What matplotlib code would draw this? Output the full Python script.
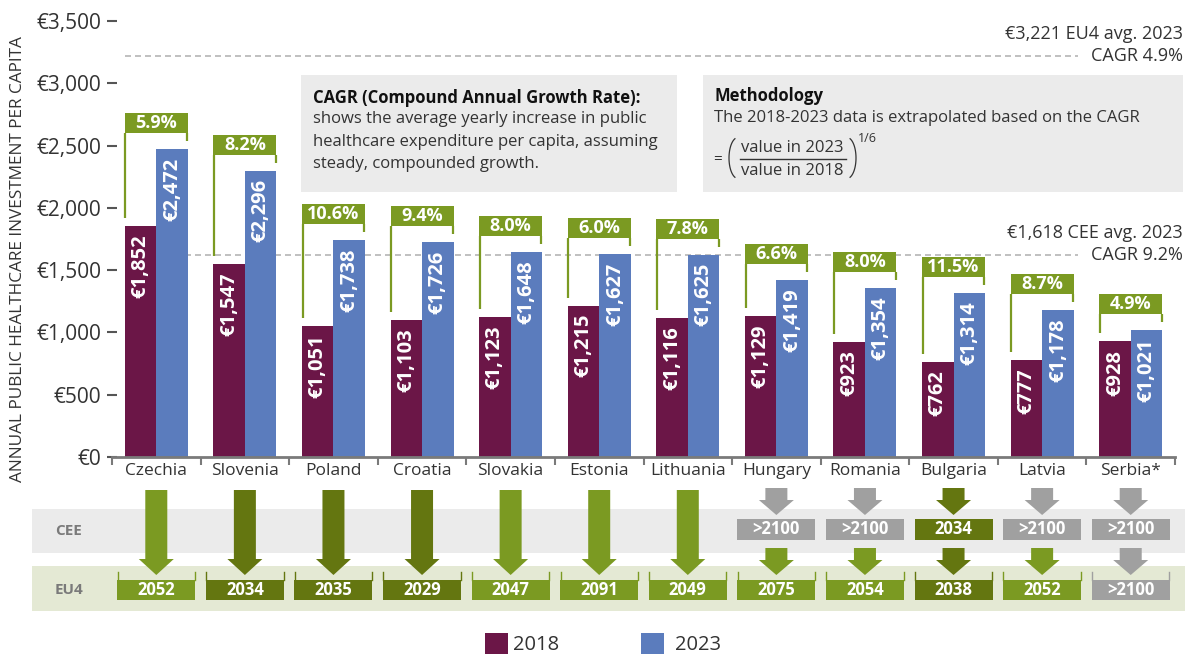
import numpy as np
import matplotlib
matplotlib.use('Agg')
import matplotlib.pyplot as plt
import matplotlib.transforms as mtransforms
from matplotlib.patches import Rectangle, Polygon
from matplotlib.lines import Line2D

plt.rcParams['font.family'] = ['Open Sans', 'DejaVu Sans']

# ---- data ----
countries = ['Czechia', 'Slovenia', 'Poland', 'Croatia', 'Slovakia', 'Estonia',
             'Lithuania', 'Hungary', 'Romania', 'Bulgaria', 'Latvia', 'Serbia*']
val_2018 = [1852, 1547, 1051, 1103, 1123, 1215, 1116, 1129, 923, 762, 777, 928]
val_2023 = [2472, 2296, 1738, 1726, 1648, 1627, 1625, 1419, 1354, 1314, 1178, 1021]
cagr = [5.9, 8.2, 10.6, 9.4, 8.0, 6.0, 7.8, 6.6, 8.0, 11.5, 8.7, 4.9]
# year of catching up with the CEE / EU4 average (None = already above CEE avg)
cee_year = [None, None, None, None, None, None, None, '>2100', '>2100', '2034', '>2100', '>2100']
eu4_year = ['2052', '2034', '2035', '2029', '2047', '2091', '2049', '2075', '2054', '2038', '2052', '>2100']
eu4_avg, eu4_cagr = 3221, 4.9
cee_avg, cee_cagr = 1618, 9.2
yticks = [0, 500, 1000, 1500, 2000, 2500, 3000, 3500]

PURPLE = '#6b1647'
BLUE = '#5b7cbd'
GREEN = '#7b9a22'
DKGREEN = '#647610'
GREY = '#a0a0a0'
TXT = '#333333'

def year_color(y):
    if y.startswith('>'):
        return GREY
    return DKGREEN if int(y) <= 2040 else GREEN

W, H = 1189, 654
fig = plt.figure(figsize=(W / 100, H / 100), dpi=100)
# pixel coords measured from top-left of the image
T = mtransforms.Affine2D().scale(1, -1).translate(0, H).scale(0.01) + fig.dpi_scale_trans

n = len(countries)
x = np.arange(n)
bw = 0.356
ax_l, ax_r, ax_top, ax_bot = 112, 1175, 21, 457
unit = (ax_r - ax_l) / n          # px per category
ymax = yticks[-1]
px2d = ymax / (ax_bot - ax_top)  # euro per px

ax = fig.add_axes([ax_l / W, 1 - ax_bot / H, (ax_r - ax_l) / W, (ax_bot - ax_top) / H])
ax.set_facecolor('none')
ax.bar(x - bw / 2, val_2018, bw, color=PURPLE, zorder=3)
ax.bar(x + bw / 2, val_2023, bw, color=BLUE, zorder=3)

for i in range(n):
    for xx, v in ((x[i] - bw / 2, val_2018[i]), (x[i] + bw / 2, val_2023[i])):
        ax.annotate(f'€{v:,}', xy=(xx, v), xytext=(0, -6), textcoords='offset points',
                    rotation=90, rotation_mode='anchor', ha='right', va='center',
                    color='white', fontsize=14.5, fontweight='bold', zorder=5)
    # CAGR bracket
    top = max(val_2018[i], val_2023[i])
    b0 = top + 16 * px2d
    b1 = b0 + 20 * px2d
    ax.add_patch(Rectangle((x[i] - bw, b0), 2 * bw, b1 - b0, facecolor=GREEN,
                           edgecolor='none', zorder=6))
    lx = x[i] - bw + 0.008
    rx = x[i] + bw - 0.008
    ax.plot([lx, lx], [b0, val_2018[i] + 8 * px2d], color=GREEN, lw=1.6, zorder=6,
            solid_capstyle='butt')
    ax.plot([rx, rx], [b0, val_2023[i] + 8 * px2d], color=GREEN, lw=1.6, zorder=6,
            solid_capstyle='butt')
    ax.text(x[i], (b0 + b1) / 2, f'{cagr[i]:.1f}%', ha='center', va='center',
            color='white', fontsize=13, fontweight='bold', zorder=7)

# average lines
bt = mtransforms.blended_transform_factory(ax.transAxes, ax.transData)
xr = 1 + 8 / (ax_r - ax_l)
for avg, cg, name in ((eu4_avg, eu4_cagr, 'EU4'), (cee_avg, cee_cagr, 'CEE')):
    ax.hlines(avg, -bw, n - 1.6, colors='#b5b5b5', linestyles=(0, (3.6, 2.4)),
              lw=1.2, zorder=1)
    ax.text(xr, avg, f'CAGR {cg}%', transform=bt, ha='right', va='center',
            fontsize=13, color=TXT, clip_on=False)
    ax.annotate(f'€{avg:,} {name} avg. 2023', xy=(xr, avg), xycoords=bt,
                xytext=(0, 16), textcoords='offset points', ha='right', va='center',
                fontsize=13, color=TXT, annotation_clip=False)

ax.set_xlim(-0.5, n - 0.5)
ax.set_ylim(0, ymax)
for s in ('top', 'right', 'left'):
    ax.spines[s].set_visible(False)
ax.spines['bottom'].set_color('#7a7a7a')
ax.spines['bottom'].set_linewidth(2)
ax.spines['bottom'].set_zorder(4)
ax.set_xticks(x)
ax.set_xticklabels(countries)
ax.set_xticks(np.arange(-0.5, n), minor=True)
ax.tick_params(axis='x', which='major', length=0, pad=4, labelsize=12.5, labelcolor=TXT)
ax.tick_params(axis='x', which='minor', length=6, width=1.5, color='#7a7a7a')
ax.set_yticks(yticks)
ax.set_yticklabels([f'€{v:,}' for v in yticks])
ax.tick_params(axis='y', length=7, width=1.5, color='#555555', direction='inout',
               pad=4, labelsize=15, labelcolor=TXT)

fig.text(18, 259, 'ANNUAL PUBLIC HEALTHCARE INVESTMENT PER CAPITA', transform=T,
         rotation=90, ha='center', va='center', fontsize=12.4, color=TXT)

# info boxes
fig.add_artist(Rectangle((301, 75), 376, 117, transform=T, facecolor='#ebebeb',
                         edgecolor='none', zorder=0))
fig.text(313, 98, 'CAGR (Compound Annual Growth Rate):', transform=T, va='center',
         fontsize=12, fontweight='bold', color='#111111')
for k, line in enumerate(['shows the average yearly increase in public',
                          'healthcare expenditure per capita, assuming',
                          'steady, compounded growth.']):
    fig.text(313, 119 + 22.5 * k, line, transform=T, va='center', fontsize=12, color=TXT)

fig.add_artist(Rectangle((703, 75), 480, 117, transform=T, facecolor='#ebebeb',
                         edgecolor='none', zorder=0))
fig.text(714, 96, 'Methodology', transform=T, va='center', fontsize=12,
         fontweight='bold', color='#111111')
fig.text(714, 118, 'The 2018-2023 data is extrapolated based on the CAGR',
         transform=T, va='center', fontsize=12, color=TXT)
fig.text(713, 159, '=', transform=T, va='center', fontsize=11, color=TXT)
fig.text(741, 148, 'value in 2023', transform=T, va='center', fontsize=12, color=TXT)
fig.text(741, 171, 'value in 2018', transform=T, va='center', fontsize=12, color=TXT)
fig.add_artist(Line2D([740, 846], [159, 159], transform=T, color=TXT, lw=1))
th = np.radians(np.linspace(110, 250, 30))
fig.add_artist(Line2D(738 + 9 * np.cos(th), 158 + 20.5 * np.sin(th), transform=T,
                      color=TXT, lw=0.9))
th = np.radians(np.linspace(-70, 70, 30))
fig.add_artist(Line2D(847 + 9 * np.cos(th), 158 + 20.5 * np.sin(th), transform=T,
                      color=TXT, lw=0.9))
fig.text(858, 139, '1/6', transform=T, va='center', fontsize=9, color=TXT)

# bottom: catch-up years (y axis of ax2 is in image pixel rows)
ax2 = fig.add_axes([ax_l / W, 0, (ax_r - ax_l) / W, (H - ax_bot) / H])
ax2.set_xlim(-0.5, n - 0.5)
ax2.set_ylim(H, ax_bot)
ax2.axis('off')
bt2 = mtransforms.blended_transform_factory(fig.transFigure, ax2.transData)
ax2.add_patch(Rectangle((32 / W, 509), (1185 - 32) / W, 44, transform=bt2,
                        facecolor='#ebebeb', edgecolor='none', clip_on=False, zorder=0))
ax2.add_patch(Rectangle((32 / W, 566), (1185 - 32) / W, 45, transform=bt2,
                        facecolor='#e4e9d4', edgecolor='none', clip_on=False, zorder=0))
ax2.text(69 / W, 531, 'CEE', transform=bt2, ha='center', va='center', fontsize=11,
         fontweight='bold', color='#7a7a7a')
ax2.text(69 / W, 590, 'EU4', transform=bt2, ha='center', va='center', fontsize=11,
         fontweight='bold', color='#7a7a7a')

s_hw = 11 / unit
h_hw = 17.5 / unit
b_hw = 39 / unit

def arrow(i, y0, yh, y1, color):
    pts = [(i - s_hw, y0), (i + s_hw, y0), (i + s_hw, yh), (i + h_hw, yh), (i, y1),
           (i - h_hw, yh), (i - s_hw, yh)]
    ax2.add_patch(Polygon(pts, closed=True, facecolor=color, edgecolor='none',
                          clip_on=False, zorder=2))

def badge(i, y0, y1, label, bracket=False):
    c = year_color(label)
    ax2.add_patch(Rectangle((i - b_hw, y0), 2 * b_hw, y1 - y0, facecolor=c,
                            edgecolor='none', clip_on=False, zorder=3))
    if bracket:
        for bx in (i - b_hw + 0.004, i + b_hw - 0.004):
            ax2.plot([bx, bx], [y0, y0 - 8], color=c, lw=1, zorder=3)
    ax2.text(i, (y0 + y1) / 2, label, ha='center', va='center', color='white',
             fontsize=12, fontweight='bold', zorder=4)

for i in range(n):
    eu = eu4_year[i]
    if cee_year[i] is None:
        arrow(x[i], 490, 559, 575, year_color(eu))
    else:
        arrow(x[i], 488, 500, 515, year_color(cee_year[i]))
        badge(x[i], 519, 540, cee_year[i])
        arrow(x[i], 548, 560, 575, year_color(eu))
    badge(x[i], 580, 600, eu, bracket=True)

# legend
for xs, c, lab, tx in ((485, PURPLE, '2018', 513), (641, BLUE, '2023', 675)):
    fig.add_artist(Rectangle((xs, 633), 23, 23, transform=T, facecolor=c, edgecolor='none'))
    fig.text(tx, 645, lab, transform=T, va='center', fontsize=14.5, color=TXT)

fig.savefig('out.png', dpi=100)
